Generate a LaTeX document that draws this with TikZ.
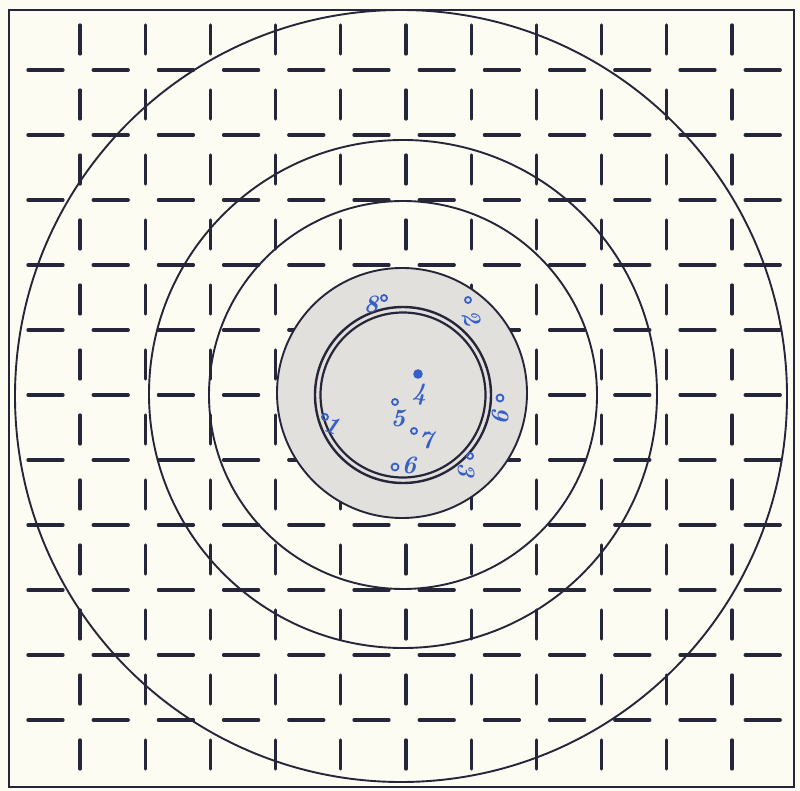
\documentclass[tikz,border=0pt]{standalone}
\usepackage{fontspec}
\usepackage{tikz}
\definecolor{paper}{RGB}{253,252,243}
\definecolor{ink}{RGB}{38,38,58}
\definecolor{disc}{RGB}{226,224,220}
\definecolor{pen}{RGB}{55,95,200}
\tikzset{
  stroke/.style={draw=ink, line width=3.3pt, line cap=round},
  ring/.style={draw=ink, line width=1.9pt},
  hand/.style={text=pen, font=\fontsize{25}{25}\selectfont\bfseries\itshape, inner sep=0pt},
  pt/.style={draw=pen, line width=1.8pt},
}
\begin{document}
\begin{tikzpicture}[x=1pt,y=-1pt]
\fill[paper] (0,0) rectangle (800,791);
\useasboundingbox (0,0) rectangle (800,791);
% dash grid
\foreach \j in {0,...,11} \foreach \i in {0,...,10} {
  \draw[stroke] ({80+65.2*\i},{39+65*\j-14}) -- ++(0,29);
}
\foreach \j in {0,...,10} \foreach \i in {0,...,11} {
  \draw[stroke] ({45+65.2*\i-17},{70+65*\j}) -- ++(35,0);
}
% rings
\draw[ring] (401,396) circle[radius=386pt];
\draw[ring] (403,394) circle[radius=254pt];
\draw[ring] (403,395) circle[radius=194pt];
\filldraw[fill=disc, ring] (402,393) circle[radius=125pt];
\draw[draw=ink, line width=2.4pt] (403,395) circle[radius=88pt];
\draw[draw=ink, line width=2.2pt] (403,395) circle[radius=82.5pt];
% frame
\draw[draw=ink, line width=2.8pt] (9,10) rectangle (794,787);
% handwritten marks
\node[hand] (n8) at (371,304) {8};
\draw[pt] (384,298) circle[radius=3pt];
\draw[pt] (468,300) circle[radius=3pt];
\node[hand, rotate=-70] (n2) at (472,318) {2};
\draw[pt] (500,398) circle[radius=3.5pt];
\node[hand, rotate=-90] (n9) at (501,414) {9};
\draw[pt] (470,456) circle[radius=3pt];
\node[hand, rotate=-90] (n3) at (467,470) {3};
\draw[pt] (325,417) circle[radius=3pt];
\node[hand, rotate=-20] (n1) at (332,425) {1};
\fill[pen] (418,374) circle[radius=4.8pt];
\node[hand] (n4) at (419,395) {4};
\draw[pt] (395,402) circle[radius=3pt];
\node[hand] (n5) at (398,418) {5};
\draw[pt] (414,431) circle[radius=3pt];
\node[hand] (n7) at (426,440) {7};
\draw[pt] (395,467) circle[radius=3.5pt];
\node[hand] (n6) at (409,465) {6};
\end{tikzpicture}
\end{document}
